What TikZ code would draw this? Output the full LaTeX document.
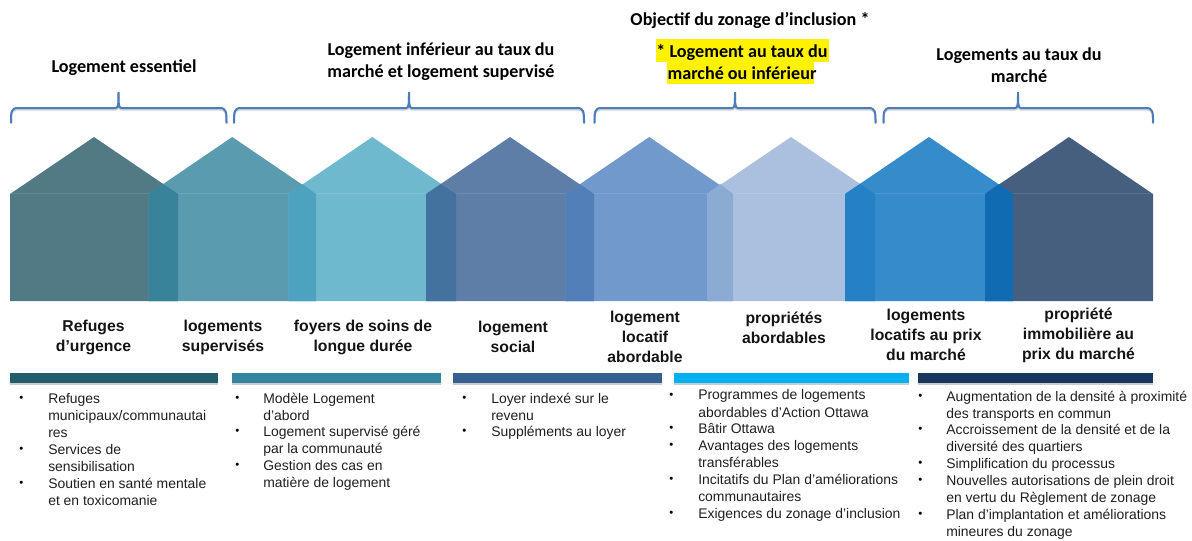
\documentclass[tikz,border=0pt]{standalone}
\usepackage{fontspec}
\setmainfont{Liberation Sans}
\newfontfamily\headfont{Carlito}[BoldFont=Carlito Bold]
\newcommand{\bul}{\vphantom{Ag}\fontsize{8.5pt}{10pt}\selectfont\raisebox{0.8pt}{•}}
\tikzset{
  x=0.75pt,y=-0.75pt,
  head/.style={font=\headfont\bfseries\fontsize{13.6pt}{16.5pt}\selectfont,align=center,inner sep=0,text=black},
  lab/.style={font=\bfseries\fontsize{11.8pt}{15pt}\selectfont,align=center,inner sep=0,text=black!92},
  item/.style={font=\fontsize{10.45pt}{12.9pt}\selectfont,align=left,anchor=north west,inner sep=0,text=black!88},
  bull/.style={font=\fontsize{10.45pt}{12.9pt}\selectfont,anchor=north west,inner sep=0,text=black},
  bracestyle/.style={draw=bracecol,line width=1.5pt,line cap=round,fill=none},
  bracesh/.style={draw=black,opacity=.18,line width=1.6pt,fill=none},
}
\definecolor{bracecol}{HTML}{4A7EBB}
\definecolor{hA}{HTML}{527A85}\definecolor{hB}{HTML}{5B9BB0}\definecolor{hC}{HTML}{6FB9CF}\definecolor{hD}{HTML}{5E7EA8}
\definecolor{hE}{HTML}{7199CB}\definecolor{hF}{HTML}{ABC0DF}\definecolor{hG}{HTML}{368BCB}\definecolor{hH}{HTML}{465F7E}
\definecolor{oA}{HTML}{38829A}\definecolor{oB}{HTML}{4DA3BF}\definecolor{oC}{HTML}{44729F}\definecolor{oD}{HTML}{527FB8}
\definecolor{oE}{HTML}{8CABD3}\definecolor{oF}{HTML}{2580C5}\definecolor{oG}{HTML}{106BB2}
\definecolor{bA}{HTML}{235D6C}\definecolor{bB}{HTML}{33859F}\definecolor{bC}{HTML}{365F92}\definecolor{bD}{HTML}{00B0F0}\definecolor{bE}{HTML}{17375E}
\newcommand{\myhouse}[3]{% left, right, colour
  \fill[#3] (#1,194) -- ({(#1+#2)/2},137) -- (#2,194) -- (#2,301) -- (#1,301) -- cycle;
  \fill[white,opacity=.1] (#1,193) rectangle (#2,194);}
\newcommand{\myoverlap}[3]{% left, right, colour
  \fill[#3] (#1,194) -- ({(#1+#2)/2},184) -- (#2,194) -- (#2,301) -- (#1,301) -- cycle;}
\newcommand{\mybrace}[3]{% left, tip, right
  \foreach \s/\st in {1.5/bracesh,0/bracestyle}{
  \draw[\st,yshift=-\s*0.75pt] (#1,122.5) .. controls (#1,112) and (#1,108) .. ({#1+7},108)
    -- ({#2-3},108) .. controls (#2,108) and (#2,104) .. (#2,92)
    .. controls (#2,104) and (#2,108) .. ({#2+3},108)
    -- ({#3-7},108) .. controls (#3,108) and (#3,112) .. (#3,122.5);}}
\newcommand{\mybar}[3]{% left, right, colour
  \fill[black,opacity=.2] (#1,375) rectangle (#2,385);
  \fill[#3] (#1,373) rectangle (#2,383);}
\begin{document}
\begin{tikzpicture}
\useasboundingbox (0,0) rectangle (1192,540);
% houses
\myhouse{10}{178}{hA}
\myhouse{148.5}{316}{hB}
\myhouse{288.5}{456}{hC}
\myhouse{426}{594}{hD}
\myhouse{565.5}{733}{hE}
\myhouse{707}{875}{hF}
\myhouse{845}{1013}{hG}
\myhouse{985}{1153}{hH}
\myoverlap{148.5}{178}{oA}
\myoverlap{288.5}{316}{oB}
\myoverlap{426}{456}{oC}
\myoverlap{565.5}{594}{oD}
\myoverlap{707}{733}{oE}
\myoverlap{845}{875}{oF}
\myoverlap{985}{1013}{oG}
% braces
\mybrace{11}{118.5}{226.5}
\mybrace{234}{409}{584}
\mybrace{594.5}{735}{875.5}
\mybrace{883.5}{1018}{1153}
% headings
\node[head] (h1) at (124,67.5) {Logement essentiel};
\node[head] (h2) at (441,61.5) {Logement inférieur au taux du\\marché et logement supervisé};
\node[head] (h0) at (750,20) {Objectif du zonage d’inclusion *};
\fill[yellow] (656,39) rectangle (829,62);
\fill[yellow] (667,62) rectangle (814,84);
\node[head] (h3) at (742,62.5) {* Logement au taux du\\marché ou inférieur};
\node[head] (h4) at (1019,65) {Logements au taux du\\marché};
% labels
\node[lab] (l1) at (93.5,337.5) {Refuges\\d’urgence};
\node[lab] (l2) at (223,337.5) {logements\\supervisés};
\node[lab] (l3) at (363,337.5) {foyers de soins de\\longue durée};
\node[lab] (l4) at (513,337) {logement\\social};
\node[lab] (l5) at (645,337) {logement\\locatif\\abordable};
\node[lab] (l6) at (784,328) {propriétés\\abordables};
\node[lab] (l7) at (926,335) {logements\\locatifs au prix\\du marché};
\node[lab] (l8) at (1078.5,335) {propriété\\immobilière au\\prix du marché};
% bars
\mybar{10}{218}{bA}
\mybar{232}{441}{bB}
\mybar{453}{662}{bC}
\mybar{674}{908.5}{bD}
\mybar{918}{1153}{bE}
% list 1
\node[bull] (b11) at (19,393) {\bul};
\node[item] (t11) at (48,393) {Refuges\\municipaux/communautai\\res};
\node[bull] (b12) at (19,444) {\bul};
\node[item] (t12) at (48,444) {Services de\\sensibilisation};
\node[bull] (b13) at (19,478) {\bul};
\node[item] (t13) at (48,478) {Soutien en santé mentale\\et en toxicomanie};
% list 2
\node[bull] (b21) at (235,392.5) {\bul};
\node[item] (t21) at (263,392.5) {Modèle Logement\\d’abord};
\node[bull] (b22) at (235,425.5) {\bul};
\node[item] (t22) at (263,425.5) {Logement supervisé géré\\par la communauté};
\node[bull] (b23) at (235,460) {\bul};
\node[item] (t23) at (263,460) {Gestion des cas en\\matière de logement};
% list 3
\node[bull] (b31) at (462,392.5) {\bul};
\node[item] (t31) at (491,392.5) {Loyer indexé sur le\\revenu};
\node[bull] (b32) at (462,425.5) {\bul};
\node[item] (t32) at (491,425.5) {Suppléments au loyer};
% list 4
\node[bull] (b41) at (669,389.5) {\bul};
\node[item] (t41) at (698,389.5) {Programmes de logements\\abordables d’Action Ottawa};
\node[bull] (b42) at (669,423) {\bul};
\node[item] (t42) at (698,423) {Bâtir Ottawa};
\node[bull] (b43) at (669,440) {\bul};
\node[item] (t43) at (698,440) {Avantages des logements\\transférables};
\node[bull] (b44) at (669,474) {\bul};
\node[item] (t44) at (698,474) {Incitatifs du Plan d’améliorations\\communautaires};
\node[bull] (b45) at (669,508) {\bul};
\node[item] (t45) at (698,508) {Exigences du zonage d’inclusion};
% list 5
\node[bull] (b51) at (918,391) {\bul};
\node[item] (t51) at (946,391) {Augmentation de la densité à proximité\\des transports en commun};
\node[bull] (b52) at (918,424) {\bul};
\node[item] (t52) at (946,424) {Accroissement de la densité et de la\\diversité des quartiers};
\node[bull] (b53) at (918,458) {\bul};
\node[item] (t53) at (946,458) {Simplification du processus};
\node[bull] (b54) at (918,475) {\bul};
\node[item] (t54) at (946,475) {Nouvelles autorisations de plein droit\\en vertu du Règlement de zonage};
\node[bull] (b55) at (918,509) {\bul};
\node[item] (t55) at (946,509) {Plan d’implantation et améliorations\\mineures du zonage};
\end{tikzpicture}
\end{document}
